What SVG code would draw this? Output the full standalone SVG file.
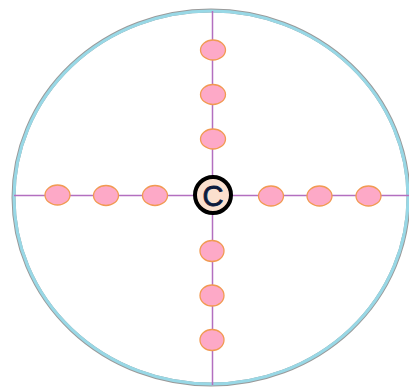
<svg xmlns="http://www.w3.org/2000/svg" width="409" height="389" viewBox="0 0 409 389">
<style>
.line{stroke:#B36FC0;stroke-width:1.5;fill:none}
.dot{fill:#FDA9C7;stroke:#F19A52;stroke-width:1.3}
.label{font-family:"Liberation Sans",Arial,sans-serif;font-size:29px;fill:#0D1B3D;text-anchor:middle;stroke:#0D1B3D;stroke-width:0.8}
</style>
<rect width="409" height="389" fill="#ffffff"/>
<g id="boundary">
<ellipse cx="211" cy="197.5" rx="197.5" ry="187" fill="none" stroke="#9A9A9A" stroke-width="4"/>
<ellipse cx="211" cy="197.5" rx="197" ry="186.5" fill="none" stroke="#98D8E6" stroke-width="3"/>
</g>
<g id="connectors">
<line class="line" x1="212.5" y1="11" x2="212.5" y2="385"/>
<line class="line" x1="14" y1="195.5" x2="409" y2="195.5"/>
</g>
<g id="n-top1"><ellipse class="dot" cx="213" cy="50" rx="12.5" ry="10"/></g>
<g id="n-top2"><ellipse class="dot" cx="213" cy="94.5" rx="12.5" ry="10"/></g>
<g id="n-top3"><ellipse class="dot" cx="213" cy="139" rx="12.5" ry="10"/></g>
<g id="n-left1"><ellipse class="dot" cx="57.5" cy="195" rx="12.5" ry="10"/></g>
<g id="n-left2"><ellipse class="dot" cx="106" cy="195.5" rx="12.5" ry="10"/></g>
<g id="n-left3"><ellipse class="dot" cx="155" cy="195.5" rx="12.5" ry="10"/></g>
<g id="n-right1"><ellipse class="dot" cx="271" cy="196" rx="12.5" ry="10"/></g>
<g id="n-right2"><ellipse class="dot" cx="319.5" cy="196" rx="12.5" ry="10"/></g>
<g id="n-right3"><ellipse class="dot" cx="368.5" cy="196" rx="12.5" ry="10"/></g>
<g id="n-bot1"><ellipse class="dot" cx="212" cy="251" rx="12" ry="10.5"/></g>
<g id="n-bot2"><ellipse class="dot" cx="212" cy="295.5" rx="12" ry="10.5"/></g>
<g id="n-bot3"><ellipse class="dot" cx="212" cy="340" rx="12" ry="10.5"/></g>
<g id="n-center">
<circle cx="213" cy="195" r="18" fill="#FBE0CE" stroke="#000000" stroke-width="4"/>
<text class="label" x="213" y="205.5">C</text>
</g>
</svg>
